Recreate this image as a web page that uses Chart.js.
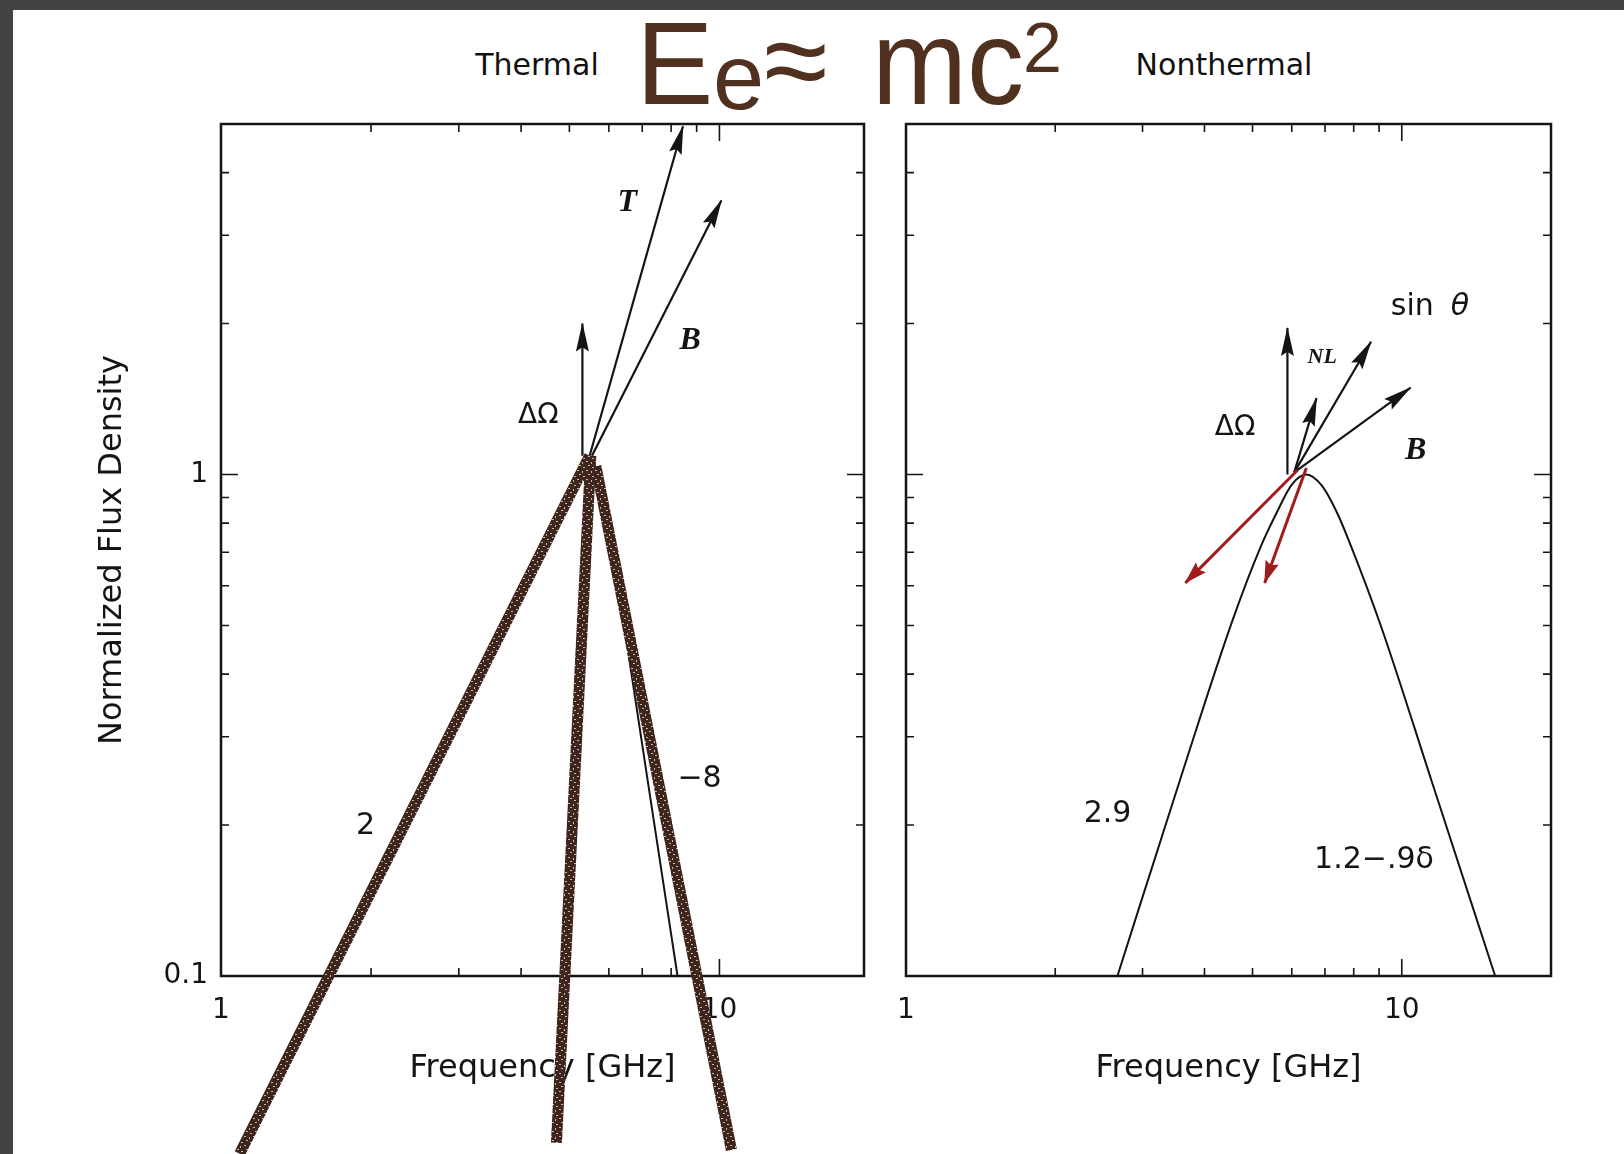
<!DOCTYPE html>
<html>
<head>
<meta charset="utf-8">
<script src="https://cdn.jsdelivr.net/npm/chart.js@4.4.1/dist/chart.umd.min.js"></script>
<style>
  html, body { margin: 0; padding: 0; }
  body { width: 1624px; height: 1154px; background: #434343; position: relative; overflow: hidden; }
  #sheet { position: absolute; left: 13px; top: 10px; right: 0; bottom: 0; background: #fff; }
  .t { position: absolute; line-height: 1; white-space: nowrap; }
  .small { font-family: 'DejaVu Sans', sans-serif; font-size: 30px; color: #111; width: 200px; text-align: center; top: 50px; }
  .big { font-family: 'Liberation Sans', Arial, sans-serif; color: #50301f; }
  canvas { position: absolute; top: 100px; }
  #thermal { left: 0; }
  #nonthermal { left: 882px; }
</style>
</head>
<body>
<div id="sheet"></div>
<div class="t small" style="left:437px">Thermal</div>
<div class="t small" style="left:1124px">Nonthermal</div>
<div class="t big" style="left:636px; top:6px; font-size:116px">E</div>
<div class="t big" style="left:713px; top:31px; font-size:92px">e</div>
<div class="t big" style="left:764px; top:2px; font-size:116px">≈</div>
<div class="t big" style="left:872px; top:2px; font-size:120px; transform:scaleX(0.95); transform-origin:left top">mc</div>
<div class="t big" style="left:1023px; top:13px; font-size:70px">2</div>
<canvas id="thermal" width="882" height="1054"></canvas>
<canvas id="nonthermal" width="742" height="1054"></canvas>
<script>
// axis ranges and tick marks
const yRange = [0.1, 5];
const thermalXRange = [1, 19.5];
const nonthermalXRange = [1, 20];
const xTickLabels = [1, 10];
const yTickLabels = [0.1, 1];
const xMinorTicks = [2, 3, 4, 5, 6, 7, 8, 9];
const xMajorTicks = [10];
const yMinorTicks = [0.2, 0.3, 0.4, 0.5, 0.6, 0.7, 0.8, 0.9, 2, 3, 4];
const yMajorTicks = [1];

// thermal spectrum: rises as f^2, falls steeply past the peak
const thermalFreq = [1.65, 3.0, 4.5, 5.2, 5.6, 5.86, 6.5, 7.3, 8.24];
const thermalFlux = [0.1, 0.32, 0.72, 0.95, 1.0, 0.935, 0.47, 0.22, 0.1];

// hand-drawn marker strokes over the thermal panel (start, end)
const markerFreq = [[5.49, 1.09], [5.52, 4.71], [5.65, 10.57]];
const markerFlux = [[1.09, 0.0442], [1.09, 0.0465], [1.04, 0.045]];

// thermal parameter arrows: ΔΩ, T, B
const thermalArrowFreq = [[5.31, 5.31], [5.49, 8.45], [5.55, 10.09]];
const thermalArrowFlux = [[1.09, 2.0], [1.09, 4.95], [1.09, 3.52]];

// nonthermal spectrum
const nonthermalFreq = [2.67, 3.57, 4.56, 5.2, 5.59, 6.0, 6.42, 6.9, 7.4, 7.9, 9.07, 11.47, 15.43];
const nonthermalFlux = [0.1, 0.246, 0.513, 0.72, 0.838, 0.955, 1.0, 0.95, 0.84, 0.72, 0.5, 0.246, 0.1];

// nonthermal parameter arrows: ΔΩ, sin θ, NL, B
const nonthermalArrowFreq = [[5.88, 5.88], [6.07, 6.73], [6.07, 8.67], [6.07, 10.42]];
const nonthermalArrowFlux = [[1.0, 1.96], [1.01, 1.42], [1.01, 1.84], [1.01, 1.49]];

// red arrows pointing back down the rising slope
const redArrowFreq = [[6.16, 3.66], [6.42, 5.29]];
const redArrowFlux = [[1.02, 0.608], [1.03, 0.608]];

const INK = '#141414';
const RED = '#a31c1c';

Chart.defaults.font.family = "'DejaVu Sans', sans-serif";
Chart.defaults.color = INK;
Chart.defaults.animation = false;

// dark brown chalky texture for the marker strokes
function chalkPattern() {
  const c = document.createElement('canvas');
  c.width = 9; c.height = 9;
  const g = c.getContext('2d');
  g.fillStyle = '#3f251b';
  g.fillRect(0, 0, 9, 9);
  g.fillStyle = 'rgba(228, 220, 215, 0.8)';
  [[1, 1, 2, 1], [6, 2, 1, 2], [3, 5, 2, 1], [7, 7, 2, 1]]
    .forEach(([x, y, w, h]) => g.fillRect(x, y, w, h));
  return g.createPattern(c, 'repeat');
}

function series(xs, ys, style) {
  return Object.assign({
    data: xs.map((f, i) => ({ x: f, y: ys[i] })),
    pointRadius: 0,
    fill: false,
    clip: false
  }, style);
}

function arrows(freqs, fluxes, color, width, head) {
  return freqs.map((f, i) => series(f, fluxes[i], {
    borderColor: color, borderWidth: width, order: 1, arrow: head
  }));
}

// frame and inward tick marks, placed through the scales
const frameTicks = {
  id: 'frameTicks',
  beforeDatasetsDraw(chart) {
    const { ctx, chartArea: a, scales: { x, y } } = chart;
    ctx.save();
    ctx.strokeStyle = INK;
    ctx.lineWidth = 2.5;
    ctx.strokeRect(a.left, a.top, a.right - a.left, a.bottom - a.top);
    ctx.lineWidth = 1.6;
    ctx.beginPath();
    const tickX = (v, len) => {
      const px = x.getPixelForValue(v);
      ctx.moveTo(px, a.bottom); ctx.lineTo(px, a.bottom - len);
      ctx.moveTo(px, a.top); ctx.lineTo(px, a.top + len);
    };
    const tickY = (v, len) => {
      const py = y.getPixelForValue(v);
      ctx.moveTo(a.left, py); ctx.lineTo(a.left + len, py);
      ctx.moveTo(a.right, py); ctx.lineTo(a.right - len, py);
    };
    xMinorTicks.forEach(v => tickX(v, 8));
    xMajorTicks.forEach(v => tickX(v, 17));
    yMinorTicks.forEach(v => tickY(v, 8));
    yMajorTicks.forEach(v => tickY(v, 17));
    ctx.stroke();
    ctx.restore();
  }
};

// filled heads at the last point of every arrow dataset
const arrowHeads = {
  id: 'arrowHeads',
  afterDatasetsDraw(chart) {
    const ctx = chart.ctx;
    chart.data.datasets.forEach((ds, i) => {
      if (!ds.arrow) return;
      const pts = chart.getDatasetMeta(i).data;
      const a = pts[pts.length - 2], b = pts[pts.length - 1];
      const ang = Math.atan2(b.y - a.y, b.x - a.x);
      const len = ds.arrow[0], half = ds.arrow[1] / 2;
      ctx.save();
      ctx.translate(b.x, b.y);
      ctx.rotate(ang);
      ctx.fillStyle = ds.borderColor;
      ctx.beginPath();
      ctx.moveTo(1, 0);
      ctx.lineTo(-len, -half);
      ctx.lineTo(-len * 0.85, 0);
      ctx.lineTo(-len, half);
      ctx.closePath();
      ctx.fill();
      ctx.restore();
    });
  }
};

// text notes anchored in data space
const notes = {
  id: 'notes',
  afterDatasetsDraw(chart, args, opts) {
    const { ctx, scales: { x, y } } = chart;
    ctx.save();
    ctx.textAlign = 'center';
    ctx.textBaseline = 'middle';
    ctx.fillStyle = INK;
    opts.items.forEach(n => {
      ctx.font = n.font;
      ctx.fillText(n.text, x.getPixelForValue(n.at[0]), y.getPixelForValue(n.at[1]));
    });
    ctx.restore();
  }
};

function scales(xRange, withYLabels, yWidth) {
  return {
    x: {
      type: 'logarithmic', min: xRange[0], max: xRange[1],
      grid: { display: false, drawTicks: false }, border: { display: false },
      afterBuildTicks: s => { s.ticks = xTickLabels.map(v => ({ value: v })); },
      afterFit: s => { s.height = 178; s.paddingLeft = 0; s.paddingRight = 0; },
      ticks: { font: { size: 28 }, color: INK, padding: 18, maxRotation: 0, autoSkip: false, callback: v => String(v) },
      title: { display: true, text: 'Frequency [GHz]', font: { size: 32 }, color: INK, padding: { top: 0, bottom: 66 } }
    },
    y: {
      type: 'logarithmic', min: yRange[0], max: yRange[1],
      grid: { display: false, drawTicks: false }, border: { display: false },
      afterBuildTicks: s => { s.ticks = yTickLabels.map(v => ({ value: v })); },
      afterFit: s => { s.width = yWidth; s.paddingTop = 0; s.paddingBottom = 0; },
      ticks: { display: withYLabels, font: { size: 28 }, color: INK, padding: 13, autoSkip: false, callback: v => String(v) },
      title: { display: withYLabels, text: 'Normalized Flux Density', font: { size: 32 }, color: INK, padding: { top: 93, bottom: 0 } }
    }
  };
}

const serif = "bold italic 32px 'Liberation Serif', serif";
const plain = "30px 'DejaVu Sans', sans-serif";

new Chart(document.getElementById('thermal'), {
  type: 'line',
  data: {
    datasets: [
      ...markerFreq.map((f, i) => series(f, markerFlux[i], {
        borderColor: chalkPattern(), borderWidth: 11, borderCapStyle: 'butt', order: 0
      })),
      ...arrows(thermalArrowFreq, thermalArrowFlux, INK, 2.2, [28, 13]),
      series(thermalFreq, thermalFlux, {
        borderColor: INK, borderWidth: 2, cubicInterpolationMode: 'monotone', order: 2
      })
    ]
  },
  options: {
    responsive: false,
    layout: { padding: { top: 24, right: 18, bottom: 0, left: 0 } },
    scales: scales(thermalXRange, true, 221),
    plugins: {
      legend: { display: false },
      tooltip: { enabled: false },
      notes: {
        items: [
          { text: 'T', at: [6.53, 3.49], font: serif },
          { text: 'B', at: [8.74, 1.85], font: serif },
          { text: 'ΔΩ', at: [4.33, 1.31], font: "28px 'DejaVu Sans', sans-serif" },
          { text: '2', at: [1.95, 0.199], font: plain },
          { text: '−8', at: [9.12, 0.247], font: plain }
        ]
      }
    }
  },
  plugins: [frameTicks, arrowHeads, notes]
});

new Chart(document.getElementById('nonthermal'), {
  type: 'line',
  data: {
    datasets: [
      ...arrows(redArrowFreq, redArrowFlux, RED, 3, [22, 14]).map(d => Object.assign(d, { order: 0 })),
      ...arrows(nonthermalArrowFreq, nonthermalArrowFlux, INK, 2.2, [28, 13]),
      series(nonthermalFreq, nonthermalFlux, {
        borderColor: INK, borderWidth: 2, cubicInterpolationMode: 'monotone', order: 2
      })
    ]
  },
  options: {
    responsive: false,
    layout: { padding: { top: 24, right: 73, bottom: 0, left: 0 } },
    scales: scales(nonthermalXRange, false, 24),
    plugins: {
      legend: { display: false },
      tooltip: { enabled: false },
      notes: {
        items: [
          { text: 'ΔΩ', at: [4.61, 1.24], font: "28px 'DejaVu Sans', sans-serif" },
          { text: 'NL', at: [6.91, 1.71], font: "bold italic 22px 'Liberation Serif', serif" },
          { text: 'sin', at: [10.5, 2.16], font: plain },
          { text: 'θ', at: [13.1, 2.16], font: "italic 30px 'DejaVu Sans', sans-serif" },
          { text: 'B', at: [10.67, 1.115], font: serif },
          { text: '2.9', at: [2.55, 0.21], font: plain },
          { text: '1.2−.9δ', at: [8.79, 0.17], font: plain }
        ]
      }
    }
  },
  plugins: [frameTicks, arrowHeads, notes]
});
</script>
</body>
</html>
